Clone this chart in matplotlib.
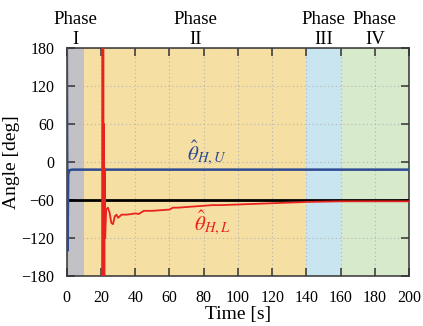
import matplotlib
matplotlib.use("Agg")
import matplotlib.pyplot as plt

plt.rcParams['font.family'] = ['Liberation Serif', 'DejaVu Serif']
plt.rcParams['mathtext.fontset'] = 'stix'

# phase bands (start, end, colour) and labels
phase_edges = [0, 10, 140, 160, 200]
phase_colors = ['#c2c2c6', '#f6dfa3', '#c8e5f0', '#d7eacb']
phase_names = ['I', 'II', 'III', 'IV']
phase_label_x = [5, 75, 150, 180]

# estimated upper bound (blue)
t_upper = [0, 0.4, 0.8, 1.5, 3, 200]
v_upper = [180, -140, -20, -13, -12, -12]

# estimated lower bound (red)
t_lower = [20.6, 20.9, 21.1, 21.3, 21.5, 21.7, 21.9, 22.1, 22.4, 23, 24, 25, 26, 27,
           28, 29, 30, 32, 35, 38, 40, 42, 45, 50, 55, 60, 62, 65, 70, 75, 80, 85,
           90, 100, 110, 120, 130, 140, 160, 200]
v_lower = [-180, 180, -180, 180, -180, 60, -180, -10, -120, -75, -72, -80, -96, -98,
           -86, -83, -88, -83, -83, -82, -81, -82, -77, -77, -76, -75, -72, -72, -71,
           -70, -69, -68, -68, -67, -66, -65, -64, -63, -62, -62]

reference = -60

fig = plt.figure(figsize=(4.23, 3.26), dpi=100)
ax = fig.add_axes([0.158, 0.153, 0.809, 0.70])

for i in range(len(phase_colors)):
    ax.axvspan(phase_edges[i], phase_edges[i + 1], color=phase_colors[i], lw=0, zorder=0)

ax.grid(True, color='#b4b4b4', linestyle=(0, (1, 2.5)), linewidth=0.8, zorder=1)
ax.axhline(reference, color='black', lw=2, zorder=3)
ax.plot(t_upper, v_upper, color='#2d4a93', lw=1.8, zorder=4)
ax.plot(t_lower, v_lower, color='#e8231e', lw=1.3, zorder=5)

ax.text(82, 14, r'$\hat{\theta}_{H,U}$', color='#2d4a93', fontsize=15, ha='center', va='center')
ax.text(85, -96, r'$\hat{\theta}_{H,L}$', color='#e8231e', fontsize=15, ha='center', va='center')

for x, name in zip(phase_label_x, phase_names):
    ax.text(x, 180, 'Phase\n' + name, ha='center', va='bottom', fontsize=13.5, linespacing=1.25)

ax.set_xlim(0, 200)
ax.set_ylim(-180, 180)
ax.set_xticks(range(0, 201, 20))
ax.set_yticks(range(-180, 181, 60))
ax.tick_params(direction='in', top=True, right=True, length=6, width=1.1,
               labelsize=11.5, color='#333333')
ax.tick_params(axis='x', pad=10)
ax.tick_params(axis='y', pad=9)
ax.set_xlabel('Time [s]', fontsize=14, labelpad=0)
ax.set_ylabel('Angle [deg]', fontsize=14, labelpad=1)
for s in ax.spines.values():
    s.set_linewidth(1.1)
    s.set_color('#333333')

fig.savefig('out.png', dpi=100)
